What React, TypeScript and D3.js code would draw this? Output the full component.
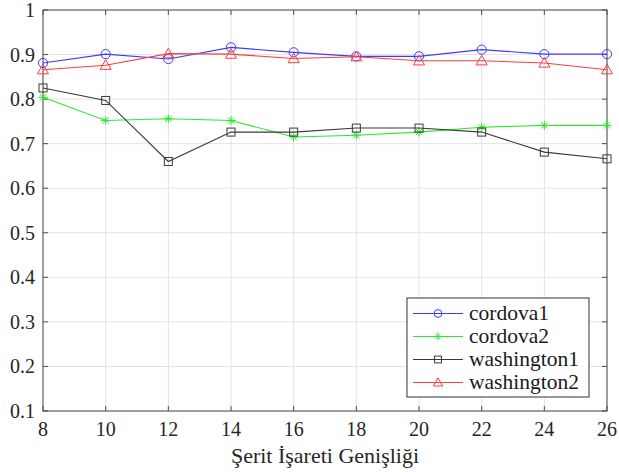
import * as d3 from "d3";

const widths = [8, 10, 12, 14, 16, 18, 20, 22, 24, 26];
const cordova1 = [0.881, 0.901, 0.89, 0.916, 0.905, 0.896, 0.896, 0.911, 0.901, 0.901];
const cordova2 = [0.804, 0.752, 0.756, 0.752, 0.715, 0.719, 0.726, 0.737, 0.741, 0.741];
const washington1 = [0.825, 0.797, 0.66, 0.726, 0.726, 0.735, 0.735, 0.726, 0.681, 0.666];
const washington2 = [0.866, 0.876, 0.902, 0.901, 0.891, 0.895, 0.886, 0.886, 0.881, 0.866];
const yTicks = [0.1, 0.2, 0.3, 0.4, 0.5, 0.6, 0.7, 0.8, 0.9, 1];
const xLabel = "Şerit İşareti Genişliği";

const series = [
  { name: "cordova1", values: cordova1, color: "#3c3cff", marker: "circle" },
  { name: "cordova2", values: cordova2, color: "#2fe82f", marker: "star" },
  { name: "washington1", values: washington1, color: "#3a3a3a", marker: "square" },
  { name: "washington2", values: washington2, color: "#ff3c3c", marker: "triangle" },
];

const W = 619,
  H = 472,
  margin = { top: 10, right: 12, bottom: 61, left: 43 };
const FONT = "Liberation Serif";
const axisColor = "#4d4d4d";

const x = d3.scaleLinear().domain([8, 26]).range([margin.left, W - margin.right]);
const y = d3.scaleLinear().domain([0.1, 1]).range([H - margin.bottom, margin.top]);

function Marker({ kind, color, cx, cy, scale = 1 }) {
  if (kind === "circle")
    return <circle cx={cx} cy={cy} r={4.6 * scale} fill="none" stroke={color} />;
  if (kind === "square") {
    const s = 8 * scale;
    return <rect x={cx - s / 2} y={cy - s / 2} width={s} height={s} fill="none" stroke={color} />;
  }
  if (kind === "triangle") {
    const r = 5.5 * scale;
    return (
      <path d={`M${cx},${cy - r}L${cx + r},${cy + r * 0.75}L${cx - r},${cy + r * 0.75}Z`}
        fill="none" stroke={color} />
    );
  }
  const r = 4.5 * scale;
  const k = r * 0.7;
  return (
    <path stroke={color}
      d={`M${cx - r},${cy}L${cx + r},${cy}M${cx},${cy - r}L${cx},${cy + r}M${cx - k},${cy - k}L${cx + k},${cy + k}M${cx - k},${cy + k}L${cx + k},${cy - k}`} />
  );
}

export default function App() {
  const line = d3.line<number>().x((d, i) => x(widths[i])).y((d) => y(d));
  const [x0, x1] = x.range();
  const [y0, y1] = y.range();

  return (
    <svg width={W} height={H} fontFamily={FONT}
      style={{ position: "absolute", left: 0, top: 0, background: "white" }}>
      {/* grid */}
      {widths.map((w) => (
        <line key={"gx" + w} x1={x(w)} x2={x(w)} y1={y0} y2={y1} stroke="#e3e3e3" />
      ))}
      {yTicks.map((t) => (
        <line key={"gy" + t} x1={x0} x2={x1} y1={y(t)} y2={y(t)} stroke="#e3e3e3" />
      ))}

      {/* box with inward ticks */}
      <rect x={x0} y={y1} width={x1 - x0} height={y0 - y1} fill="none" stroke={axisColor} />
      {widths.map((w) => (
        <g key={"tx" + w}>
          <line x1={x(w)} x2={x(w)} y1={y0} y2={y0 - 5} stroke={axisColor} />
          <line x1={x(w)} x2={x(w)} y1={y1} y2={y1 + 5} stroke={axisColor} />
          <text x={x(w)} y={y0 + 25} textAnchor="middle" fontFamily={FONT} fontSize={20} fill="#262626">
            {w}
          </text>
        </g>
      ))}
      {yTicks.map((t) => (
        <g key={"ty" + t}>
          <line x1={x0} x2={x0 + 5} y1={y(t)} y2={y(t)} stroke={axisColor} />
          <line x1={x1} x2={x1 - 5} y1={y(t)} y2={y(t)} stroke={axisColor} />
          <text x={x0 - 8} y={y(t) + 7} textAnchor="end" fontFamily={FONT} fontSize={20} fill="#262626">
            {t === 1 ? "1" : d3.format(".1f")(t)}
          </text>
        </g>
      ))}

      <text x={(x0 + x1) / 2} y={H - 9} textAnchor="middle" fontFamily={FONT} fontSize={22} fill="#262626">
        {xLabel}
      </text>

      {/* series */}
      {series.map((s) => (
        <g key={s.name}>
          <path d={line(s.values) || ""} fill="none" stroke={s.color} strokeWidth={1.1} />
          {s.values.map((v, i) => (
            <Marker key={i} kind={s.marker} color={s.color} cx={x(widths[i])} cy={y(v)} />
          ))}
        </g>
      ))}

      {/* legend */}
      <g transform="translate(407,298)">
        <rect width={182} height={99} fill="white" stroke="#333" />
        {series.map((s, i) => {
          const cy = 15.5 + i * 23;
          return (
            <g key={"lg" + s.name}>
              <line x1={6} x2={56} y1={cy} y2={cy} stroke={s.color} />
              <Marker kind={s.marker} color={s.color} cx={31} cy={cy} scale={0.85} />
              <text x={62} y={cy + 6.5} fontFamily={FONT} fontSize={21.5} fill="#1a1a1a">
                {s.name}
              </text>
            </g>
          );
        })}
      </g>
    </svg>
  );
}
